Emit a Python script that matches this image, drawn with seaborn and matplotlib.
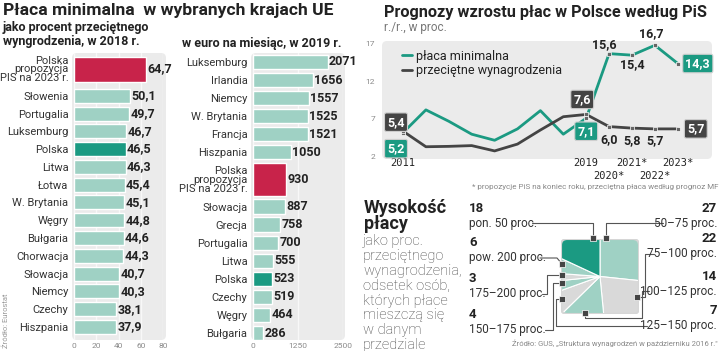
import numpy as np
import pandas as pd
import matplotlib.pyplot as plt
import seaborn as sns
from matplotlib.patches import FancyBboxPatch
from matplotlib.lines import Line2D
from matplotlib.transforms import Affine2D

# placa minimalna jako % przecietnego wynagrodzenia, 2018
kraje_proc = ['Polska\npropozycja\nPIS na 2023 r.', 'Słowenia', 'Portugalia', 'Luksemburg', 'Polska',
              'Litwa', 'Łotwa', 'W. Brytania', 'Węgry', 'Bułgaria', 'Chorwacja', 'Słowacja',
              'Niemcy', 'Czechy', 'Hiszpania']
proc = [64.7, 50.1, 49.7, 46.7, 46.5, 46.3, 45.4, 45.1, 44.8, 44.6, 44.3, 40.7, 40.3, 38.1, 37.9]

# w euro na miesiac, 2019
kraje_euro = ['Luksemburg', 'Irlandia', 'Niemcy', 'W. Brytania', 'Francja', 'Hiszpania',
              'Polska\npropozycja\nPIS na 2023 r.', 'Słowacja', 'Grecja', 'Portugalia', 'Litwa',
              'Polska', 'Czechy', 'Węgry', 'Bułgaria']
euro = [2071, 1656, 1557, 1525, 1521, 1050, 930, 887, 758, 700, 555, 523, 519, 464, 286]

PIS = 'Polska\npropozycja\nPIS na 2023 r.'

# prognozy r/r
lata = list(range(2011, 2024))
minimalna = [5.2, 8.2, 6.7, 5.0, 4.2, 5.7, 8.1, 5.0, 7.1, 15.6, 15.4, 16.7, 14.3]
przecietne = [5.4, 3.35, 3.4, 3.5, 2.8, 3.7, 5.55, 7.3, 7.6, 6.0, 5.8, 5.7, 5.7]
lata_opis = [2011, 2019, 2020, 2021, 2022, 2023]
lata_etyk = ['2011', '2019', '2020*', '2021*', '2022*', '2023*']

# struktura wynagrodzen
przedzialy = ['50–75 proc.', '75–100 proc.', '100–125 proc.', '125–150 proc.',
              '150–175 proc.', '175–200 proc.', 'pow. 200 proc.', 'pon. 50 proc.']
odsetek = [27, 22, 14, 7, 4, 3, 6, 18]

TEAL = '#9fd1c4'
DARK_TEAL = '#1b9a82'
RED = '#c8234a'
PANEL = '#ebebeb'
GREY_PIE = '#d9d9d9'
DARK = '#444444'

sns.set_theme(style='white')
plt.rcParams['font.family'] = ['Roboto', 'DejaVu Sans']

W, H = 720, 351
fig = plt.figure(figsize=(7.2, 3.51), dpi=100)
fig.patch.set_facecolor('white')
px = Affine2D().scale(1 / 100) + fig.dpi_scale_trans


def axes_px(x0, y0, x1, y1):
    return fig.add_axes([x0 / W, 1 - y1 / H, (x1 - x0) / W, (y1 - y0) / H])


def txt(x, y, s, **kw):
    kw.setdefault('va', 'center')
    return fig.text(x, H - y, s, transform=px, **kw)


def panel(x0, y0, x1, y1, r=5):
    p = FancyBboxPatch((x0, H - y1), x1 - x0, y1 - y0, boxstyle=f'round,pad=0,rounding_size={r}',
                       transform=px, facecolor=PANEL, edgecolor='none', zorder=-5)
    fig.add_artist(p)


def fmt(v):
    return f'{v:.1f}'.replace('.', ',')


def slots(names):
    pos, p = [], 0.0
    for i, n in enumerate(names):
        if i > 0:
            p += 1.5 if (names[i - 1] == PIS or n == PIS) else 1
        pos.append(p)
    return pos


def bar_chart(ax, names, vals, xmax, ticks, pis_h, labels, dx):
    cols = [RED if n == PIS else (DARK_TEAL if n == 'Polska' else TEAL) for n in names]
    sns.barplot(x=vals, y=names, hue=names, palette=cols, legend=False, orient='h', ax=ax,
                saturation=1, edgecolor='white', linewidth=1)
    pos = slots(names)
    for p in ax.patches:
        i = int(round(p.get_y() + p.get_height() / 2))
        h = pis_h if names[i] == PIS else 0.79
        p.set_y(pos[i] - h / 2)
        p.set_height(h)
    for i, v in enumerate(vals):
        ax.text(v + dx, pos[i], labels[i], va='center', ha='left', fontsize=9,
                fontweight='bold', color='#222222')
    ax.set_yticks(pos, names)
    for lbl in ax.get_yticklabels():
        lbl.set_linespacing(0.85)
    ax.set_xlim(0, xmax)
    ax.set_xticks(ticks, [str(t) for t in ticks])
    ax.tick_params(axis='y', length=0, pad=4, labelsize=8, labelcolor='#333333')
    ax.tick_params(axis='x', length=0, pad=2, labelsize=6, labelcolor='#8a8a8a')
    ax.xaxis.grid(True, color='#f8f8f8', lw=1)
    ax.set_axisbelow(True)
    ax.set_facecolor('none')
    ax.set_xlabel('')
    ax.set_ylabel('')
    sns.despine(ax=ax, left=True, bottom=True)
    return pos


# --- lewy wykres: procent
panel(72, 53, 166, 340)
ax1 = axes_px(74, 53, 163, 340)
p1 = bar_chart(ax1, kraje_proc, proc, 80, [0, 20, 40, 60, 80], 1.41, [fmt(v) for v in proc], 1.2)
ax1.set_ylim(14.5 + 13 / 17.7, -16 / 17.7)

# --- srodkowy wykres: euro
panel(251, 53, 345, 340)
ax2 = axes_px(253, 53, 343, 340)
p2 = bar_chart(ax2, kraje_euro, euro, 2500, [0, 1250, 2500], 1.83, [str(v) for v in euro], 40)
ax2.set_ylim(15 + 7 / 18.07, -9 / 18.07)

txt(3, 11, 'Płaca minimalna  w wybranych krajach UE', fontsize=12.6, fontweight='bold', color='#222222')
txt(3, 28, 'jako procent przeciętnego', fontsize=9, fontweight='bold', color='#222222')
txt(3, 42, 'wyngrodzenia, w 2018 r.', fontsize=9, fontweight='bold', color='#222222')
txt(182, 44, 'w euro na miesiąc, w 2019 r.', fontsize=9, fontweight='bold', color='#222222')
txt(6, 348, 'Źródło: Eurostat', fontsize=5.5, color='#999999', rotation=90, va='bottom', ha='center')

# --- wykres liniowy
panel(382, 41, 712, 159)
ax3 = axes_px(382, 41, 712, 159)
df = pd.DataFrame({'rok': lata * 2,
                   'wartosc': minimalna + przecietne,
                   'seria': ['płaca minimalna'] * len(lata) + ['przeciętne wynagrodzenia'] * len(lata)})
sns.lineplot(data=df, x='rok', y='wartosc', hue='seria', ax=ax3, linewidth=2,
             palette={'płaca minimalna': DARK_TEAL, 'przeciętne wynagrodzenia': DARK})
pts = df[df['rok'].isin(lata_opis)]
ax3.scatter(pts['rok'], pts['wartosc'], marker='s', s=9, color='#666666', edgecolor='white',
            linewidth=0.5, zorder=4)
ax3.set_xlim(2011 - 21 / 22.9, 2011 + 309 / 22.9)
ax3.set_ylim(2 - 2 / 7.6, 17 + 2 / 7.6)
ax3.set_facecolor('none')
ax3.set_xticks(lata_opis, [''] * len(lata_opis))
ax3.set_yticks([2, 7, 12, 17], ['2', '7', '12', '17'])
ax3.tick_params(axis='x', length=0)
ax3.tick_params(axis='y', length=0, pad=5, labelsize=6, labelcolor='#8a8a8a')
for rok, et in zip(lata_opis, lata_etyk):
    yy = -0.145 if et in ('2020*', '2022*') else -0.035
    ax3.text(rok, yy, et, transform=ax3.get_xaxis_transform(), ha='center', va='center',
             fontsize=7.5, family='DejaVu Sans Mono', color='#222222')
ax3.set_xlabel('')
ax3.set_ylabel('')
sns.despine(ax=ax3, left=True, bottom=True)
leg = ax3.legend(loc='upper left', bbox_to_anchor=(0.035, 1.0), frameon=False, fontsize=9,
                 handlelength=0.8, handletextpad=0.3, labelspacing=0.12, borderpad=0.2)
for t in leg.get_texts():
    t.set_color('#222222')

# podpisy wartosci: (seria, indeks roku, styl, przesuniecie w px)
opisy = [
    ('m', 0, 'green', (-7, -16)), ('m', 8, 'green', (0, -13)), ('m', 9, None, (-5, 9)),
    ('m', 10, None, (0, -9)), ('m', 11, None, (-4, 12)), ('m', 12, 'green', (20, 0)),
    ('p', 0, 'dark', (-7, 9)), ('p', 8, 'dark', (-4, 15)), ('p', 9, None, (0, -13)),
    ('p', 10, None, (0, -12)), ('p', 11, None, (0, -12)), ('p', 12, 'dark', (18, 0)),
]
for s, i, styl, off in opisy:
    v = minimalna[i] if s == 'm' else przecietne[i]
    kw = dict(fontsize=9, fontweight='bold', ha='center', va='center')
    if styl is None:
        kw['color'] = '#222222'
    else:
        kw['color'] = 'white'
        kw['bbox'] = dict(boxstyle='round,pad=0.22,rounding_size=0.15',
                          fc=DARK_TEAL if styl == 'green' else DARK, ec='#cfcfcf', lw=0.8)
    ax3.annotate(fmt(v), (lata[i], v), xytext=off, textcoords='offset pixels', zorder=6, **kw)

txt(384, 12, 'Prognozy wzrostu płac w Polsce według PiS', fontsize=11.7, fontweight='bold', color='#222222')
txt(384, 27, 'r./r., w proc.', fontsize=8.5, color='#777777')
txt(718, 187, '* propozycje PiS na koniec roku, przeciętna płaca według prognoz MF',
    fontsize=5.8, color='#888888', ha='right')

# --- struktura wynagrodzen
txt(364, 199, 'Wysokość\npłacy', fontsize=13, fontweight='bold', color='#222222', va='top',
    linespacing=0.88)
opis = ['jako proc.', 'przeciętnego', 'wynagrodzenia,', 'odsetek osób,', 'których płace',
        'mieszczą się', 'w danym', 'przedziale']
for k, line in enumerate(opis):
    txt(363, 241 + k * 14.9, line, fontsize=10.5, fontweight='light', color='#444444')

axp = axes_px(561, 239, 639, 314)
kolory_pie = [TEAL, GREY_PIE, TEAL, GREY_PIE, TEAL, GREY_PIE, TEAL, DARK_TEAL]
wedges, _ = axp.pie(odsetek, colors=kolory_pie, startangle=90, counterclock=False, radius=2.2,
                    wedgeprops=dict(edgecolor='white', linewidth=0.8))
axp.set_xlim(-1, 1)
axp.set_ylim(-1, 1)
axp.set_aspect('auto')
clip = FancyBboxPatch((0, 0), 1, 1, boxstyle='round,pad=0,rounding_size=0.08',
                      transform=axp.transAxes, facecolor='none', edgecolor='#d6d6d6', lw=1.5, zorder=5)
axp.add_patch(clip)
for w in wedges:
    w.set_clip_on(True)
    w.set_clip_path(clip)

# rozmieszczenie podpisow i linii odniesienia
uklad = {
    '50–75 proc.':    ('R', 209, 224, [(606, 238), (606, 223), (663, 223)]),
    '75–100 proc.':   ('R', 239, 254, [(637, 297), (645, 297), (645, 254), (654, 254)]),
    '100–125 proc.':  ('R', 276, 291, [(585, 313), (585, 318), (642, 318), (642, 291), (649, 291)]),
    '125–150 proc.':  ('R', 311, 326, [(562, 299), (556, 299), (556, 326), (647, 326)]),
    '150–175 proc.':  ('L', 314, 330, [(562, 283), (553, 283), (553, 330), (545, 330)]),
    '175–200 proc.':  ('L', 278, 294, [(562, 275), (547, 275), (547, 294), (542, 294)]),
    'pow. 200 proc.': ('L', 242, 258, [(562, 264), (557, 258), (540, 258)]),
    'pon. 50 proc.':  ('L', 209, 224, [(593, 238), (593, 223), (532, 223)]),
}
for nazwa, val in zip(przedzialy, odsetek):
    strona, yn, yl, path = uklad[nazwa]
    x, ha = (717, 'right') if strona == 'R' else (469, 'left')
    txt(x, yn, str(val), fontsize=9.5, fontweight='bold', color='#222222', ha=ha)
    txt(x, yl, nazwa, fontsize=8.5, color='#333333', ha=ha)
    xs = [p[0] for p in path]
    ys = [H - p[1] for p in path]
    fig.add_artist(Line2D(xs, ys, transform=px, color='#555555', lw=0.8))
    fig.add_artist(Line2D([xs[0]], [ys[0]], transform=px, marker='s', ms=4, color=DARK,
                          mec='white', mew=0.5, zorder=10))

txt(718, 343, 'Źródło: GUS, „Struktura wynagrodzeń w październiku 2016 r."', fontsize=5.5,
    color='#888888', ha='right')

fig.savefig('out.png', dpi=100)
